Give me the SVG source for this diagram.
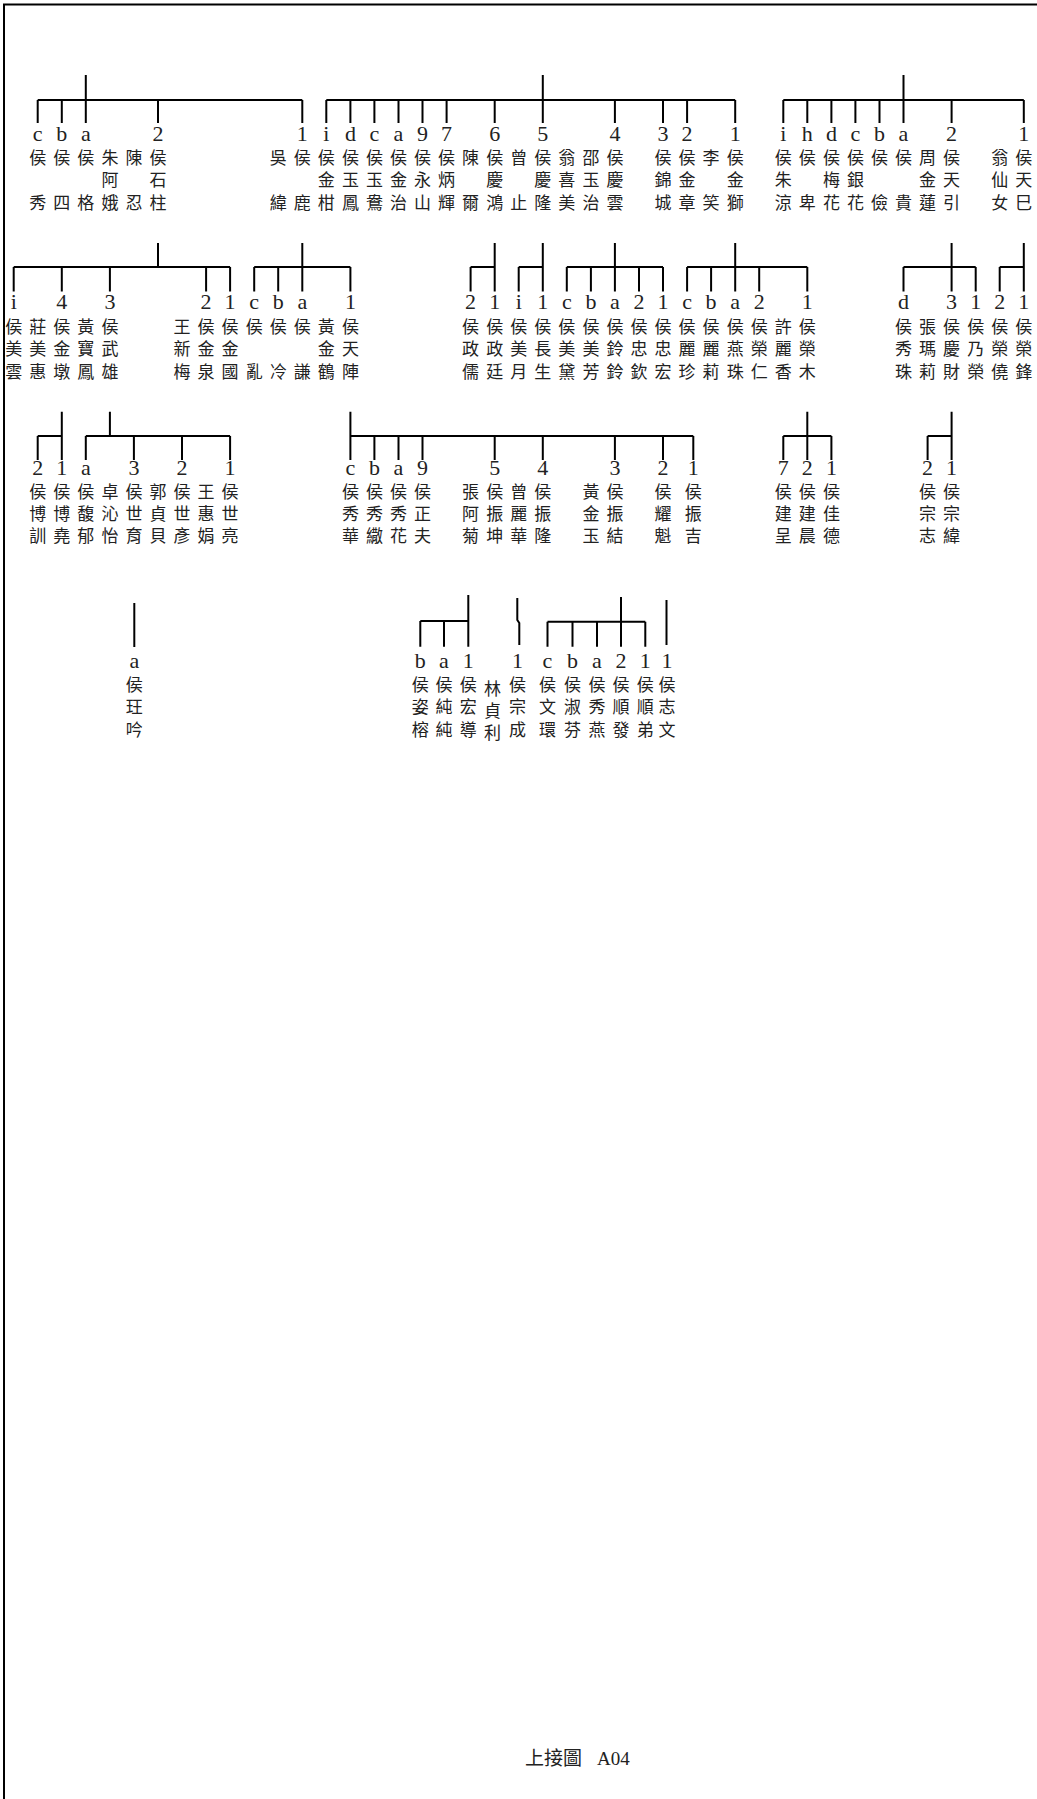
<svg xmlns="http://www.w3.org/2000/svg" width="1037" height="1799" viewBox="0 0 1037 1799">
<style>
.bg{fill:#fff}
.frame{stroke:#000;stroke-width:2;fill:none}
.ln{stroke:#000;stroke-width:2;fill:none}
.lb{font-family:"Liberation Serif","Noto Sans CJK TC",serif;font-size:22px;text-anchor:middle;fill:#222}
.nm{font-family:"Noto Sans CJK TC","Noto Sans CJK SC",sans-serif;font-size:17px;text-anchor:middle;fill:#222}
.ft{font-family:"Liberation Serif","Noto Sans CJK TC",serif;font-size:19px;fill:#222}
</style>
<rect class="bg" x="0" y="0" width="1037" height="1799"/>
<path class="frame" d="M4 1799V4.5H1037"/>

<g id="connectors">
<path class="ln" d="M85.8 75V100M37.7 100H302.3M37.7 100V123M61.8 100V123M85.8 100V123M158 100V123M302.3 100V123"/>
<path class="ln" d="M542.8 75V100M326.3 100H735.2M326.3 100V123M350.4 100V123M374.4 100V123M398.5 100V123M422.5 100V123M446.6 100V123M494.7 100V123M542.8 100V123M614.9 100V123M663 100V123M687.1 100V123M735.2 100V123"/>
<path class="ln" d="M903.5 75V100M783.3 100H1023.8M783.3 100V123M807.3 100V123M831.4 100V123M855.4 100V123M879.5 100V123M903.5 100V123M951.6 100V123M1023.8 100V123"/>
<path class="ln" d="M158 243V267M13.7 267H230.1M13.7 267V291.5M61.8 267V291.5M109.9 267V291.5M206.1 267V291.5M230.1 267V291.5"/>
<path class="ln" d="M302.3 243V267M254.2 267H350.4M254.2 267V291.5M278.2 267V291.5M302.3 267V291.5M350.4 267V291.5"/>
<path class="ln" d="M494.7 243V267M470.6 267H494.7M470.6 267V291.5M494.7 267V291.5"/>
<path class="ln" d="M542.8 243V267M518.7 267H542.8M518.7 267V291.5M542.8 267V291.5"/>
<path class="ln" d="M614.9 243V267M566.8 267H663M566.8 267V291.5M590.9 267V291.5M614.9 267V291.5M639 267V291.5M663 267V291.5"/>
<path class="ln" d="M735.2 243V267M687.1 267H807.3M687.1 267V291.5M711.1 267V291.5M735.2 267V291.5M759.2 267V291.5M807.3 267V291.5"/>
<path class="ln" d="M951.6 243V267M903.5 267H975.7M903.5 267V291.5M951.6 267V291.5M975.7 267V291.5"/>
<path class="ln" d="M1023.8 243V267M999.7 267H1023.8M999.7 267V291.5M1023.8 267V291.5"/>
<path class="ln" d="M61.8 411.7V436M37.7 436H61.8M37.7 436V460M61.8 436V460"/>
<path class="ln" d="M109.9 411.7V436M85.8 436H230.1M85.8 436V460M133.9 436V460M182 436V460M230.1 436V460"/>
<path class="ln" d="M350.4 411.7V436M350.4 436H693.3M350.4 436V460M374.4 436V460M398.5 436V460M422.5 436V460M494.7 436V460M542.8 436V460M614.9 436V460M663 436V460M693.3 436V460"/>
<path class="ln" d="M807.3 411.7V436M783.3 436H831.4M783.3 436V460M807.3 436V460M831.4 436V460"/>
<path class="ln" d="M951.6 411.7V436M927.6 436H951.6M927.6 436V460M951.6 436V460"/>
<path class="ln" d="M134.3 603V647"/>
<path class="ln" d="M468.3 595V621M420.3 621H468.3M420.3 621V646.7M444 621V646.7M468.3 621V646.7"/>
<path class="ln" d="M517.3 598V620L519.3 623V645"/>
<path class="ln" d="M621 597V621.7M547.5 621.7H645.3M547.5 621.7V646.7M572.5 621.7V646.7M597 621.7V646.7M621 621.7V646.7M645.3 621.7V646.7"/>
<path class="ln" d="M666.5 600V645"/>
</g>

<g id="r1-0"><text class="lb" x="37.7" y="141">c</text><text class="nm" x="37.7" y="164">侯</text><text class="nm" x="37.7" y="208.5">秀</text></g>
<g id="r1-1"><text class="lb" x="61.8" y="141">b</text><text class="nm" x="61.8" y="164">侯</text><text class="nm" x="61.8" y="208.5">四</text></g>
<g id="r1-2"><text class="lb" x="85.8" y="141">a</text><text class="nm" x="85.8" y="164">侯</text><text class="nm" x="85.8" y="208.5">格</text></g>
<g id="r1-3"><text class="nm" x="109.9" y="164">朱</text><text class="nm" x="109.9" y="186">阿</text><text class="nm" x="109.9" y="208.5">娥</text></g>
<g id="r1-4"><text class="nm" x="133.9" y="164">陳</text><text class="nm" x="133.9" y="208.5">忍</text></g>
<g id="r1-5"><text class="lb" x="158" y="141">2</text><text class="nm" x="158" y="164">侯</text><text class="nm" x="158" y="186">石</text><text class="nm" x="158" y="208.5">柱</text></g>
<g id="r1-10"><text class="nm" x="278.2" y="164">吳</text><text class="nm" x="278.2" y="208.5">緯</text></g>
<g id="r1-11"><text class="lb" x="302.3" y="141">1</text><text class="nm" x="302.3" y="164">侯</text><text class="nm" x="302.3" y="208.5">鹿</text></g>
<g id="r1-12"><text class="lb" x="326.3" y="141">i</text><text class="nm" x="326.3" y="164">侯</text><text class="nm" x="326.3" y="186">金</text><text class="nm" x="326.3" y="208.5">柑</text></g>
<g id="r1-13"><text class="lb" x="350.4" y="141">d</text><text class="nm" x="350.4" y="164">侯</text><text class="nm" x="350.4" y="186">玉</text><text class="nm" x="350.4" y="208.5">鳳</text></g>
<g id="r1-14"><text class="lb" x="374.4" y="141">c</text><text class="nm" x="374.4" y="164">侯</text><text class="nm" x="374.4" y="186">玉</text><text class="nm" x="374.4" y="208.5">鴦</text></g>
<g id="r1-15"><text class="lb" x="398.5" y="141">a</text><text class="nm" x="398.5" y="164">侯</text><text class="nm" x="398.5" y="186">金</text><text class="nm" x="398.5" y="208.5">治</text></g>
<g id="r1-16"><text class="lb" x="422.5" y="141">9</text><text class="nm" x="422.5" y="164">侯</text><text class="nm" x="422.5" y="186">永</text><text class="nm" x="422.5" y="208.5">山</text></g>
<g id="r1-17"><text class="lb" x="446.6" y="141">7</text><text class="nm" x="446.6" y="164">侯</text><text class="nm" x="446.6" y="186">炳</text><text class="nm" x="446.6" y="208.5">輝</text></g>
<g id="r1-18"><text class="nm" x="470.6" y="164">陳</text><text class="nm" x="470.6" y="208.5">爾</text></g>
<g id="r1-19"><text class="lb" x="494.7" y="141">6</text><text class="nm" x="494.7" y="164">侯</text><text class="nm" x="494.7" y="186">慶</text><text class="nm" x="494.7" y="208.5">鴻</text></g>
<g id="r1-20"><text class="nm" x="518.7" y="164">曾</text><text class="nm" x="518.7" y="208.5">止</text></g>
<g id="r1-21"><text class="lb" x="542.8" y="141">5</text><text class="nm" x="542.8" y="164">侯</text><text class="nm" x="542.8" y="186">慶</text><text class="nm" x="542.8" y="208.5">隆</text></g>
<g id="r1-22"><text class="nm" x="566.8" y="164">翁</text><text class="nm" x="566.8" y="186">喜</text><text class="nm" x="566.8" y="208.5">美</text></g>
<g id="r1-23"><text class="nm" x="590.9" y="164">邵</text><text class="nm" x="590.9" y="186">玉</text><text class="nm" x="590.9" y="208.5">治</text></g>
<g id="r1-24"><text class="lb" x="614.9" y="141">4</text><text class="nm" x="614.9" y="164">侯</text><text class="nm" x="614.9" y="186">慶</text><text class="nm" x="614.9" y="208.5">雲</text></g>
<g id="r1-26"><text class="lb" x="663" y="141">3</text><text class="nm" x="663" y="164">侯</text><text class="nm" x="663" y="186">錦</text><text class="nm" x="663" y="208.5">城</text></g>
<g id="r1-27"><text class="lb" x="687.1" y="141">2</text><text class="nm" x="687.1" y="164">侯</text><text class="nm" x="687.1" y="186">金</text><text class="nm" x="687.1" y="208.5">章</text></g>
<g id="r1-28"><text class="nm" x="711.1" y="164">李</text><text class="nm" x="711.1" y="208.5">笑</text></g>
<g id="r1-29"><text class="lb" x="735.2" y="141">1</text><text class="nm" x="735.2" y="164">侯</text><text class="nm" x="735.2" y="186">金</text><text class="nm" x="735.2" y="208.5">獅</text></g>
<g id="r1-31"><text class="lb" x="783.3" y="141">i</text><text class="nm" x="783.3" y="164">侯</text><text class="nm" x="783.3" y="186">朱</text><text class="nm" x="783.3" y="208.5">涼</text></g>
<g id="r1-32"><text class="lb" x="807.3" y="141">h</text><text class="nm" x="807.3" y="164">侯</text><text class="nm" x="807.3" y="208.5">卑</text></g>
<g id="r1-33"><text class="lb" x="831.4" y="141">d</text><text class="nm" x="831.4" y="164">侯</text><text class="nm" x="831.4" y="186">梅</text><text class="nm" x="831.4" y="208.5">花</text></g>
<g id="r1-34"><text class="lb" x="855.4" y="141">c</text><text class="nm" x="855.4" y="164">侯</text><text class="nm" x="855.4" y="186">銀</text><text class="nm" x="855.4" y="208.5">花</text></g>
<g id="r1-35"><text class="lb" x="879.5" y="141">b</text><text class="nm" x="879.5" y="164">侯</text><text class="nm" x="879.5" y="208.5">儉</text></g>
<g id="r1-36"><text class="lb" x="903.5" y="141">a</text><text class="nm" x="903.5" y="164">侯</text><text class="nm" x="903.5" y="208.5">貴</text></g>
<g id="r1-37"><text class="nm" x="927.6" y="164">周</text><text class="nm" x="927.6" y="186">金</text><text class="nm" x="927.6" y="208.5">蓮</text></g>
<g id="r1-38"><text class="lb" x="951.6" y="141">2</text><text class="nm" x="951.6" y="164">侯</text><text class="nm" x="951.6" y="186">天</text><text class="nm" x="951.6" y="208.5">引</text></g>
<g id="r1-40"><text class="nm" x="999.7" y="164">翁</text><text class="nm" x="999.7" y="186">仙</text><text class="nm" x="999.7" y="208.5">女</text></g>
<g id="r1-41"><text class="lb" x="1023.8" y="141">1</text><text class="nm" x="1023.8" y="164">侯</text><text class="nm" x="1023.8" y="186">天</text><text class="nm" x="1023.8" y="208.5">巳</text></g>

<g id="r2-m1"><text class="lb" x="13.7" y="309">i</text><text class="nm" x="13.7" y="332.5">侯</text><text class="nm" x="13.7" y="354.5">美</text><text class="nm" x="13.7" y="377.5">雲</text></g>
<g id="r2-0"><text class="nm" x="37.7" y="332.5">莊</text><text class="nm" x="37.7" y="354.5">美</text><text class="nm" x="37.7" y="377.5">惠</text></g>
<g id="r2-1"><text class="lb" x="61.8" y="309">4</text><text class="nm" x="61.8" y="332.5">侯</text><text class="nm" x="61.8" y="354.5">金</text><text class="nm" x="61.8" y="377.5">墩</text></g>
<g id="r2-2"><text class="nm" x="85.8" y="332.5">黃</text><text class="nm" x="85.8" y="354.5">寶</text><text class="nm" x="85.8" y="377.5">鳳</text></g>
<g id="r2-3"><text class="lb" x="109.9" y="309">3</text><text class="nm" x="109.9" y="332.5">侯</text><text class="nm" x="109.9" y="354.5">武</text><text class="nm" x="109.9" y="377.5">雄</text></g>
<g id="r2-6"><text class="nm" x="182" y="332.5">王</text><text class="nm" x="182" y="354.5">新</text><text class="nm" x="182" y="377.5">梅</text></g>
<g id="r2-7"><text class="lb" x="206.1" y="309">2</text><text class="nm" x="206.1" y="332.5">侯</text><text class="nm" x="206.1" y="354.5">金</text><text class="nm" x="206.1" y="377.5">泉</text></g>
<g id="r2-8"><text class="lb" x="230.1" y="309">1</text><text class="nm" x="230.1" y="332.5">侯</text><text class="nm" x="230.1" y="354.5">金</text><text class="nm" x="230.1" y="377.5">國</text></g>
<g id="r2-9"><text class="lb" x="254.2" y="309">c</text><text class="nm" x="254.2" y="332.5">侯</text><text class="nm" x="254.2" y="377.5">亂</text></g>
<g id="r2-10"><text class="lb" x="278.2" y="309">b</text><text class="nm" x="278.2" y="332.5">侯</text><text class="nm" x="278.2" y="377.5">冷</text></g>
<g id="r2-11"><text class="lb" x="302.3" y="309">a</text><text class="nm" x="302.3" y="332.5">侯</text><text class="nm" x="302.3" y="377.5">謙</text></g>
<g id="r2-12"><text class="nm" x="326.3" y="332.5">黃</text><text class="nm" x="326.3" y="354.5">金</text><text class="nm" x="326.3" y="377.5">鶴</text></g>
<g id="r2-13"><text class="lb" x="350.4" y="309">1</text><text class="nm" x="350.4" y="332.5">侯</text><text class="nm" x="350.4" y="354.5">天</text><text class="nm" x="350.4" y="377.5">陣</text></g>
<g id="r2-18"><text class="lb" x="470.6" y="309">2</text><text class="nm" x="470.6" y="332.5">侯</text><text class="nm" x="470.6" y="354.5">政</text><text class="nm" x="470.6" y="377.5">儒</text></g>
<g id="r2-19"><text class="lb" x="494.7" y="309">1</text><text class="nm" x="494.7" y="332.5">侯</text><text class="nm" x="494.7" y="354.5">政</text><text class="nm" x="494.7" y="377.5">廷</text></g>
<g id="r2-20"><text class="lb" x="518.7" y="309">i</text><text class="nm" x="518.7" y="332.5">侯</text><text class="nm" x="518.7" y="354.5">美</text><text class="nm" x="518.7" y="377.5">月</text></g>
<g id="r2-21"><text class="lb" x="542.8" y="309">1</text><text class="nm" x="542.8" y="332.5">侯</text><text class="nm" x="542.8" y="354.5">長</text><text class="nm" x="542.8" y="377.5">生</text></g>
<g id="r2-22"><text class="lb" x="566.8" y="309">c</text><text class="nm" x="566.8" y="332.5">侯</text><text class="nm" x="566.8" y="354.5">美</text><text class="nm" x="566.8" y="377.5">黛</text></g>
<g id="r2-23"><text class="lb" x="590.9" y="309">b</text><text class="nm" x="590.9" y="332.5">侯</text><text class="nm" x="590.9" y="354.5">美</text><text class="nm" x="590.9" y="377.5">芳</text></g>
<g id="r2-24"><text class="lb" x="614.9" y="309">a</text><text class="nm" x="614.9" y="332.5">侯</text><text class="nm" x="614.9" y="354.5">鈴</text><text class="nm" x="614.9" y="377.5">鈴</text></g>
<g id="r2-25"><text class="lb" x="639" y="309">2</text><text class="nm" x="639" y="332.5">侯</text><text class="nm" x="639" y="354.5">忠</text><text class="nm" x="639" y="377.5">欽</text></g>
<g id="r2-26"><text class="lb" x="663" y="309">1</text><text class="nm" x="663" y="332.5">侯</text><text class="nm" x="663" y="354.5">忠</text><text class="nm" x="663" y="377.5">宏</text></g>
<g id="r2-27"><text class="lb" x="687.1" y="309">c</text><text class="nm" x="687.1" y="332.5">侯</text><text class="nm" x="687.1" y="354.5">麗</text><text class="nm" x="687.1" y="377.5">珍</text></g>
<g id="r2-28"><text class="lb" x="711.1" y="309">b</text><text class="nm" x="711.1" y="332.5">侯</text><text class="nm" x="711.1" y="354.5">麗</text><text class="nm" x="711.1" y="377.5">莉</text></g>
<g id="r2-29"><text class="lb" x="735.2" y="309">a</text><text class="nm" x="735.2" y="332.5">侯</text><text class="nm" x="735.2" y="354.5">燕</text><text class="nm" x="735.2" y="377.5">珠</text></g>
<g id="r2-30"><text class="lb" x="759.2" y="309">2</text><text class="nm" x="759.2" y="332.5">侯</text><text class="nm" x="759.2" y="354.5">榮</text><text class="nm" x="759.2" y="377.5">仁</text></g>
<g id="r2-31"><text class="nm" x="783.3" y="332.5">許</text><text class="nm" x="783.3" y="354.5">麗</text><text class="nm" x="783.3" y="377.5">香</text></g>
<g id="r2-32"><text class="lb" x="807.3" y="309">1</text><text class="nm" x="807.3" y="332.5">侯</text><text class="nm" x="807.3" y="354.5">榮</text><text class="nm" x="807.3" y="377.5">木</text></g>
<g id="r2-36"><text class="lb" x="903.5" y="309">d</text><text class="nm" x="903.5" y="332.5">侯</text><text class="nm" x="903.5" y="354.5">秀</text><text class="nm" x="903.5" y="377.5">珠</text></g>
<g id="r2-37"><text class="nm" x="927.6" y="332.5">張</text><text class="nm" x="927.6" y="354.5">瑪</text><text class="nm" x="927.6" y="377.5">莉</text></g>
<g id="r2-38"><text class="lb" x="951.6" y="309">3</text><text class="nm" x="951.6" y="332.5">侯</text><text class="nm" x="951.6" y="354.5">慶</text><text class="nm" x="951.6" y="377.5">財</text></g>
<g id="r2-39"><text class="lb" x="975.7" y="309">1</text><text class="nm" x="975.7" y="332.5">侯</text><text class="nm" x="975.7" y="354.5">乃</text><text class="nm" x="975.7" y="377.5">榮</text></g>
<g id="r2-40"><text class="lb" x="999.7" y="309">2</text><text class="nm" x="999.7" y="332.5">侯</text><text class="nm" x="999.7" y="354.5">榮</text><text class="nm" x="999.7" y="377.5">僥</text></g>
<g id="r2-41"><text class="lb" x="1023.8" y="309">1</text><text class="nm" x="1023.8" y="332.5">侯</text><text class="nm" x="1023.8" y="354.5">榮</text><text class="nm" x="1023.8" y="377.5">鋒</text></g>

<g id="r3-0"><text class="lb" x="37.7" y="474.5">2</text><text class="nm" x="37.7" y="497.5">侯</text><text class="nm" x="37.7" y="519.5">博</text><text class="nm" x="37.7" y="542">訓</text></g>
<g id="r3-1"><text class="lb" x="61.8" y="474.5">1</text><text class="nm" x="61.8" y="497.5">侯</text><text class="nm" x="61.8" y="519.5">博</text><text class="nm" x="61.8" y="542">堯</text></g>
<g id="r3-2"><text class="lb" x="85.8" y="474.5">a</text><text class="nm" x="85.8" y="497.5">侯</text><text class="nm" x="85.8" y="519.5">馥</text><text class="nm" x="85.8" y="542">郁</text></g>
<g id="r3-3"><text class="nm" x="109.9" y="497.5">卓</text><text class="nm" x="109.9" y="519.5">沁</text><text class="nm" x="109.9" y="542">怡</text></g>
<g id="r3-4"><text class="lb" x="133.9" y="474.5">3</text><text class="nm" x="133.9" y="497.5">侯</text><text class="nm" x="133.9" y="519.5">世</text><text class="nm" x="133.9" y="542">育</text></g>
<g id="r3-5"><text class="nm" x="158" y="497.5">郭</text><text class="nm" x="158" y="519.5">貞</text><text class="nm" x="158" y="542">貝</text></g>
<g id="r3-6"><text class="lb" x="182" y="474.5">2</text><text class="nm" x="182" y="497.5">侯</text><text class="nm" x="182" y="519.5">世</text><text class="nm" x="182" y="542">彥</text></g>
<g id="r3-7"><text class="nm" x="206.1" y="497.5">王</text><text class="nm" x="206.1" y="519.5">惠</text><text class="nm" x="206.1" y="542">娟</text></g>
<g id="r3-8"><text class="lb" x="230.1" y="474.5">1</text><text class="nm" x="230.1" y="497.5">侯</text><text class="nm" x="230.1" y="519.5">世</text><text class="nm" x="230.1" y="542">亮</text></g>
<g id="r3-13"><text class="lb" x="350.4" y="474.5">c</text><text class="nm" x="350.4" y="497.5">侯</text><text class="nm" x="350.4" y="519.5">秀</text><text class="nm" x="350.4" y="542">華</text></g>
<g id="r3-14"><text class="lb" x="374.4" y="474.5">b</text><text class="nm" x="374.4" y="497.5">侯</text><text class="nm" x="374.4" y="519.5">秀</text><text class="nm" x="374.4" y="542">繖</text></g>
<g id="r3-15"><text class="lb" x="398.5" y="474.5">a</text><text class="nm" x="398.5" y="497.5">侯</text><text class="nm" x="398.5" y="519.5">秀</text><text class="nm" x="398.5" y="542">花</text></g>
<g id="r3-16"><text class="lb" x="422.5" y="474.5">9</text><text class="nm" x="422.5" y="497.5">侯</text><text class="nm" x="422.5" y="519.5">正</text><text class="nm" x="422.5" y="542">夫</text></g>
<g id="r3-18"><text class="nm" x="470.6" y="497.5">張</text><text class="nm" x="470.6" y="519.5">阿</text><text class="nm" x="470.6" y="542">菊</text></g>
<g id="r3-19"><text class="lb" x="494.7" y="474.5">5</text><text class="nm" x="494.7" y="497.5">侯</text><text class="nm" x="494.7" y="519.5">振</text><text class="nm" x="494.7" y="542">坤</text></g>
<g id="r3-20"><text class="nm" x="518.7" y="497.5">曾</text><text class="nm" x="518.7" y="519.5">麗</text><text class="nm" x="518.7" y="542">華</text></g>
<g id="r3-21"><text class="lb" x="542.8" y="474.5">4</text><text class="nm" x="542.8" y="497.5">侯</text><text class="nm" x="542.8" y="519.5">振</text><text class="nm" x="542.8" y="542">隆</text></g>
<g id="r3-23"><text class="nm" x="590.9" y="497.5">黃</text><text class="nm" x="590.9" y="519.5">金</text><text class="nm" x="590.9" y="542">玉</text></g>
<g id="r3-24"><text class="lb" x="614.9" y="474.5">3</text><text class="nm" x="614.9" y="497.5">侯</text><text class="nm" x="614.9" y="519.5">振</text><text class="nm" x="614.9" y="542">結</text></g>
<g id="r3-26"><text class="lb" x="663" y="474.5">2</text><text class="nm" x="663" y="497.5">侯</text><text class="nm" x="663" y="519.5">耀</text><text class="nm" x="663" y="542">魁</text></g>
<g id="r3-27"><text class="lb" x="693.3" y="474.5">1</text><text class="nm" x="693.3" y="497.5">侯</text><text class="nm" x="693.3" y="519.5">振</text><text class="nm" x="693.3" y="542">吉</text></g>
<g id="r3-31"><text class="lb" x="783.3" y="474.5">7</text><text class="nm" x="783.3" y="497.5">侯</text><text class="nm" x="783.3" y="519.5">建</text><text class="nm" x="783.3" y="542">呈</text></g>
<g id="r3-32"><text class="lb" x="807.3" y="474.5">2</text><text class="nm" x="807.3" y="497.5">侯</text><text class="nm" x="807.3" y="519.5">建</text><text class="nm" x="807.3" y="542">晨</text></g>
<g id="r3-33"><text class="lb" x="831.4" y="474.5">1</text><text class="nm" x="831.4" y="497.5">侯</text><text class="nm" x="831.4" y="519.5">佳</text><text class="nm" x="831.4" y="542">德</text></g>
<g id="r3-37"><text class="lb" x="927.6" y="474.5">2</text><text class="nm" x="927.6" y="497.5">侯</text><text class="nm" x="927.6" y="519.5">宗</text><text class="nm" x="927.6" y="542">志</text></g>
<g id="r3-38"><text class="lb" x="951.6" y="474.5">1</text><text class="nm" x="951.6" y="497.5">侯</text><text class="nm" x="951.6" y="519.5">宗</text><text class="nm" x="951.6" y="542">緯</text></g>

<g id="r4-a"><text class="lb" x="134.3" y="668">a</text><text class="nm" x="134.3" y="690.5">侯</text><text class="nm" x="134.3" y="712.5">玨</text><text class="nm" x="134.3" y="735.5">吟</text></g>
<g id="r4-1"><text class="lb" x="420.3" y="668">b</text><text class="nm" x="420.3" y="690.5">侯</text><text class="nm" x="420.3" y="712.5">姿</text><text class="nm" x="420.3" y="735.5">榕</text></g>
<g id="r4-2"><text class="lb" x="444" y="668">a</text><text class="nm" x="444" y="690.5">侯</text><text class="nm" x="444" y="712.5">純</text><text class="nm" x="444" y="735.5">純</text></g>
<g id="r4-3"><text class="lb" x="468.3" y="668">1</text><text class="nm" x="468.3" y="690.5">侯</text><text class="nm" x="468.3" y="712.5">宏</text><text class="nm" x="468.3" y="735.5">導</text></g>
<g id="r4-4"><text class="nm" x="492.5" y="694.5">林</text><text class="nm" x="492.5" y="716.5">貞</text><text class="nm" x="492.5" y="738.5">利</text></g>
<g id="r4-5"><text class="lb" x="517.5" y="668">1</text><text class="nm" x="517.5" y="690.5">侯</text><text class="nm" x="517.5" y="712.5">宗</text><text class="nm" x="517.5" y="735.5">成</text></g>
<g id="r4-6"><text class="lb" x="547.5" y="668">c</text><text class="nm" x="547.5" y="690.5">侯</text><text class="nm" x="547.5" y="712.5">文</text><text class="nm" x="547.5" y="735.5">環</text></g>
<g id="r4-7"><text class="lb" x="572.5" y="668">b</text><text class="nm" x="572.5" y="690.5">侯</text><text class="nm" x="572.5" y="712.5">淑</text><text class="nm" x="572.5" y="735.5">芬</text></g>
<g id="r4-8"><text class="lb" x="597" y="668">a</text><text class="nm" x="597" y="690.5">侯</text><text class="nm" x="597" y="712.5">秀</text><text class="nm" x="597" y="735.5">燕</text></g>
<g id="r4-9"><text class="lb" x="621" y="668">2</text><text class="nm" x="621" y="690.5">侯</text><text class="nm" x="621" y="712.5">順</text><text class="nm" x="621" y="735.5">發</text></g>
<g id="r4-10"><text class="lb" x="645.3" y="668">1</text><text class="nm" x="645.3" y="690.5">侯</text><text class="nm" x="645.3" y="712.5">順</text><text class="nm" x="645.3" y="735.5">弟</text></g>
<g id="r4-11"><text class="lb" x="667" y="668">1</text><text class="nm" x="667" y="690.5">侯</text><text class="nm" x="667" y="712.5">志</text><text class="nm" x="667" y="735.5">文</text></g>

<g id="footer"><text class="ft" x="525" y="1765">上接圖</text><text class="ft" x="597" y="1765">A04</text></g>
</svg>
